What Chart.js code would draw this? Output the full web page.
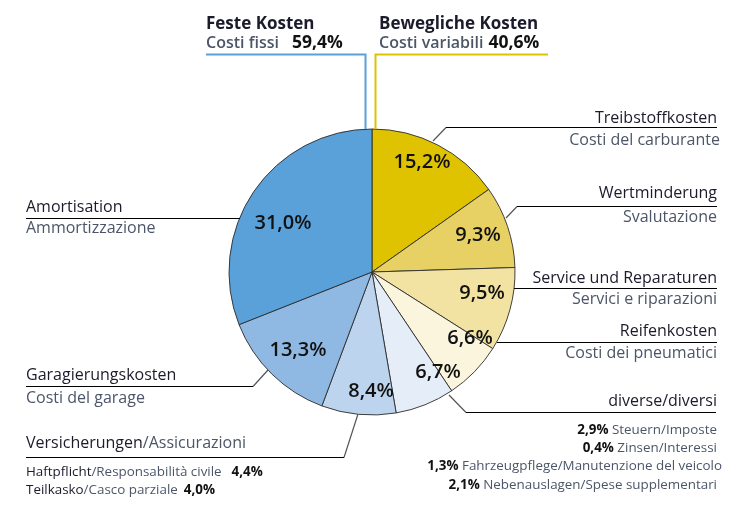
<!DOCTYPE html>
<html><head><meta charset="utf-8">
<script src="https://cdn.jsdelivr.net/npm/chart.js@4.4.1/dist/chart.umd.min.js"></script>
<style>html,body{margin:0;padding:0;background:#fff}#wrap{width:741px;height:521px;position:relative}</style>
</head><body><div id="wrap"><canvas id="c" width="741" height="521"></canvas></div>
<script>
const categories = ["Treibstoffkosten","Wertminderung","Service und Reparaturen","Reifenkosten","diverse/diversi","Versicherungen/Assicurazioni","Garagierungskosten","Amortisation"];
const categoriesIt = ["Costi del carburante","Svalutazione","Servici e riparazioni","Costi dei pneumatici","","","Costi del garage","Ammortizzazione"];
const values = [15.2, 9.3, 9.5, 6.6, 6.7, 8.4, 13.3, 31.0];
const valueLabels = ["15,2%","9,3%","9,5%","6,6%","6,7%","8,4%","13,3%","31,0%"];
const colors = ["#dfc300","#e8d164","#f3e3a2","#fbf5dd","#e5edf8","#bdd4ee","#8fb9e3","#5aa1da"];
const groupTitles = ["Feste Kosten","Bewegliche Kosten"];
const groupSub = ["Costi fissi","Costi variabili"];
const groupValues = ["59,4%","40,6%"];
const diverseItems = [["2,9%","Steuern/Imposte"],["0,4%","Zinsen/Interessi"],["1,3%","Fahrzeugpflege/Manutenzione del veicolo"],["2,1%","Nebenauslagen/Spese supplementari"]];
const insuranceItems = [["Haftpflicht/Responsabilità civile","4,4%"],["Teilkasko/Casco parziale","4,0%"]];

const F = '"Open Sans", "Noto Sans", sans-serif';
const DARK = '#1b1b2c', GREY = '#4c5668';
// label offsets relative to pie centre (text centre)
const labelOffsets = [[50,-110],[106,-37],[110,21],[98,66],[66,100],[-1,119],[-74,78],[-89,-49]];

const overlay = {
  id: 'overlay',
  afterDraw(chart) {
    const ctx = chart.ctx;
    const arcs = chart.getDatasetMeta(0).data;
    const cx = arcs[0].x, cy = arcs[0].y;
    ctx.save();
    // percent labels
    ctx.fillStyle = '#111';
    ctx.font = '600 20px ' + F;
    ctx.textAlign = 'center'; ctx.textBaseline = 'middle';
    valueLabels.forEach((t, i) => ctx.fillText(t, cx + labelOffsets[i][0], cy + labelOffsets[i][1]));

    function line(pts, color, w) {
      ctx.beginPath(); ctx.strokeStyle = color; ctx.lineWidth = w || 1.2;
      ctx.moveTo(pts[0][0], pts[0][1]);
      for (let k = 1; k < pts.length; k++) ctx.lineTo(pts[k][0], pts[k][1]);
      ctx.stroke();
    }
    function txt(t, x, y, font, color, align) {
      ctx.font = font; ctx.fillStyle = color; ctx.textAlign = align || 'left'; ctx.textBaseline = 'alphabetic';
      ctx.fillText(t, x, y);
      return ctx.measureText(t).width;
    }
    // group headers
    const H = 'bold 17px ' + F, S = '600 16px ' + F, V = 'bold 17.5px ' + F;
    txt(groupTitles[0], 206, 29, H, DARK);
    let w = txt(groupSub[0], 206, 48, S, GREY);
    txt(groupValues[0], 206 + w + 13, 48, V, '#111');
    txt(groupTitles[1], 379, 29, H, DARK);
    w = txt(groupSub[1], 379, 48, S, GREY);
    txt(groupValues[1], 379 + w + 5, 48, V, '#111');
    line([[206, 54.5],[365.5, 54.5],[365.5, cy - 143]], '#5aa1da', 2);
    line([[548, 54.5],[375.5, 54.5],[375.5, cy - 143]], '#dfc300', 2);

    const L = '16px ' + F, Ls = '13.4px ' + F, Lb = 'bold 13.4px ' + F;
    // right labels
    const RX = 717;
    txt(categories[0], RX, 123, L, DARK, 'right');
    txt(categoriesIt[0], RX + 3, 145, L, GREY, 'right');
    line([[433, 141],[446, 127.5]], '#555');
    line([[446, 127.5],[RX, 127.5]], '#000');

    txt(categories[1], RX, 198, L, DARK, 'right');
    txt(categoriesIt[1], RX, 222, L, GREY, 'right');
    line([[506, 218],[517, 206.5]], '#555');
    line([[517, 206.5],[RX, 206.5]], '#000');

    txt(categories[2], RX, 283, L, DARK, 'right');
    txt(categoriesIt[2], RX, 304, L, GREY, 'right');
    line([[514, 288.5],[RX, 288.5]], '#000');

    txt(categories[3], RX, 336, L, DARK, 'right');
    txt(categoriesIt[3], RX, 358, L, GREY, 'right');
    line([[497, 342.5],[RX, 342.5]], '#000');

    txt(categories[4], RX, 406, L, DARK, 'right');
    line([[449, 395],[466, 412.5]], '#555');
    line([[466, 412.5],[716, 412.5]], '#000');
    const dY = [434, 452, 470, 489];
    diverseItems.forEach((it, i) => {
      const rx = i === 2 ? 722 : 717;
      const w2 = txt(it[1], rx, dY[i], Ls, GREY, 'right');
      txt(it[0] + ' ', rx - w2, dY[i], Lb, '#111', 'right');
    });

    // left labels
    const LX = 26;
    txt(categories[7], LX, 212, L, DARK);
    txt(categoriesIt[7], LX, 233, L, GREY);
    line([[LX, 218.5],[240, 218.5]], '#000');

    txt(categories[6], LX, 380, L, DARK);
    txt(categoriesIt[6], LX, 403, L, GREY);
    line([[LX, 386.5],[253, 386.5]], '#000');
    line([[253, 386.5],[268, 370]], '#555');

    const w3a = txt('Versicherungen', LX, 448, L, DARK);
    txt('/Assicurazioni', LX + w3a, 448, L, GREY);
    line([[LX, 457.5],[344, 457.5]], '#000');
    line([[344, 457.5],[358, 414]], '#555');
    const iY = [476, 494];
    insuranceItems.forEach((it, i) => {
      const parts = it[0].split('/');
      let x = LX;
      x += txt(parts[0], x, iY[i], Ls, DARK);
      x += txt('/' + parts[1], x, iY[i], Ls, GREY);
      txt(it[1], x + (i === 0 ? 10 : 6), iY[i], Lb, '#111');
    });
    ctx.restore();
  }
};

new Chart(document.getElementById('c'), {
  type: 'pie',
  data: {
    labels: categories,
    datasets: [{ data: values, backgroundColor: colors, borderColor: '#2b2b2b', borderWidth: 0.9 }]
  },
  options: {
    responsive: false,
    animation: false,
    radius: 143,
    layout: { padding: { left: 229, right: 226, top: 129, bottom: 106 } },
    plugins: { legend: { display: false }, tooltip: { enabled: false } }
  },
  plugins: [overlay]
});
</script></body></html>
